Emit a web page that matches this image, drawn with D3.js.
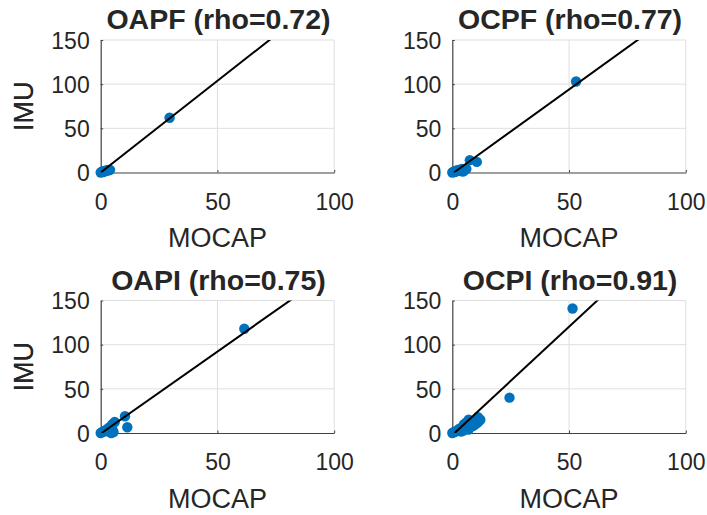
<!DOCTYPE html>
<html>
<head>
<meta charset="utf-8">
<script src="https://cdn.jsdelivr.net/npm/d3@7"></script>
<style>
  body { margin: 0; background: #fff; }
  svg text { font-family: "Liberation Sans", Arial, Helvetica, sans-serif; fill: #262626; }
</style>
</head>
<body>
<div id="chart"></div>
<script>
// panel titles
const titles = ['OAPF (rho=0.72)', 'OCPF (rho=0.77)', 'OAPI (rho=0.75)', 'OCPI (rho=0.91)'];

// MOCAP (x) values per panel
const mocapOAPF = [0, 0.5, 1, 1, 1.5, 2, 2.5, 3, 3.5, 4, 29.5];
const mocapOCPF = [0, 0.5, 1, 1.5, 2, 2.5, 3, 4, 4.5, 5, 6, 7.5, 10.5, 53];
const mocapOAPI = [0, 0.5, 1, 1.5, 2, 3, 3, 4, 4.5, 5, 5, 5.5, 6, 10.4, 11.4, 61.5];
const mocapOCPI = [0, 0.5, 1, 2, 3, 3.5, 4, 4, 5, 5, 6, 6, 7, 7, 8, 9, 10, 10, 11, 11, 12, 24.5, 51.5];

// IMU (y) values per panel
const imuOAPF = [0, 1, 0.5, 1.5, 1, 2, 2, 3, 2.5, 3, 62];
const imuOCPF = [0, 1, 0.5, 2, 1.5, 3, 2, 4, 1, 2, 4, 14, 12, 103];
const imuOAPI = [0, 1, 1.5, 2, 3, 5, 2, 7, 0, 4, 10, 1, 12.5, 19, 6.5, 118];
const imuOCPI = [0, 1, 1, 3, 5, 2, 6, 2, 10, 3, 12, 5, 15, 4, 8, 8, 10, 13, 18, 12, 15, 40, 141];

// least-squares line per panel: slope, intercept, x start
const fitSlope = [2.075, 1.906, 1.859, 2.455];
const fitIntercept = [0, -1.3, -0.74, -2.45];
const fitStart = [0, 0.7, 0.4, 1.0];

const xTicks = [0, 50, 100];
const yTicks = [0, 50, 100, 150];

const panels = [
  { x: mocapOAPF, y: imuOAPF },
  { x: mocapOCPF, y: imuOCPF },
  { x: mocapOAPI, y: imuOAPI },
  { x: mocapOCPI, y: imuOCPI }
];

const W = 707, H = 515;
const svg = d3.select('#chart').append('svg')
  .attr('width', W)
  .attr('height', H);

// plot box positions (left, top) for the 2x2 grid
const boxW = 233.5, boxH = 132.5;
const lefts = [100.7, 452.3];
const tops = [40, 300.5];

panels.forEach((p, i) => {
  const left = lefts[i % 2];
  const top = tops[Math.floor(i / 2)];

  const x = d3.scaleLinear().domain([0, 100]).range([0, boxW]);
  const y = d3.scaleLinear().domain([0, 150]).range([boxH, 0]);

  const g = svg.append('g').attr('transform', `translate(${left},${top})`);

  // grid
  g.append('g')
    .selectAll('line.gx')
    .data(xTicks.filter(d => d > 0))
    .join('line')
    .attr('x1', d => x(d)).attr('x2', d => x(d))
    .attr('y1', 0).attr('y2', boxH)
    .attr('stroke', '#dfdfdf').attr('stroke-width', 1);
  g.append('g')
    .selectAll('line.gy')
    .data(yTicks.filter(d => d > 0))
    .join('line')
    .attr('x1', 0).attr('x2', boxW)
    .attr('y1', d => y(d)).attr('y2', d => y(d))
    .attr('stroke', '#dfdfdf').attr('stroke-width', 1);

  // axes (ticks point inward, like matlab)
  const xAxis = g.append('g')
    .attr('transform', `translate(0,${boxH})`)
    .call(d3.axisBottom(x).tickValues(xTicks).tickSize(-2.5).tickPadding(21).tickSizeOuter(0));
  const yAxis = g.append('g')
    .call(d3.axisLeft(y).tickValues(yTicks).tickSize(-2.5).tickPadding(11).tickSizeOuter(0));

  [xAxis, yAxis].forEach(a => {
    a.select('.domain').attr('stroke', '#404040').attr('stroke-width', 1.2);
    a.selectAll('.tick line').attr('stroke', '#404040');
    a.selectAll('.tick text').attr('font-size', 23).attr('fill', '#262626')
      .style('font-family', '"Liberation Sans", Arial, sans-serif');
  });
  xAxis.selectAll('.tick text').attr('dy', '0.71em');
  yAxis.selectAll('.tick text').attr('dy', '0.36em');

  // clip for the fit line
  const clipId = 'clip' + i;
  g.append('clipPath').attr('id', clipId)
    .append('rect').attr('width', boxW).attr('height', boxH);

  // points
  const pts = p.x.map((v, j) => ({ mx: v, iy: p.y[j] }));
  g.append('g')
    .selectAll('circle')
    .data(pts)
    .join('circle')
    .attr('cx', d => x(d.mx))
    .attr('cy', d => y(d.iy))
    .attr('r', 5.2)
    .attr('fill', '#0072BD');

  // fit line
  const x0 = fitStart[i], x1 = 100;
  g.append('line')
    .attr('clip-path', `url(#${clipId})`)
    .attr('x1', x(x0)).attr('y1', y(fitSlope[i] * x0 + fitIntercept[i]))
    .attr('x2', x(x1)).attr('y2', y(fitSlope[i] * x1 + fitIntercept[i]))
    .attr('stroke', '#000').attr('stroke-width', 2);

  // title
  g.append('text')
    .attr('x', boxW / 2 + 1)
    .attr('y', -11)
    .attr('text-anchor', 'middle')
    .attr('font-size', 28.5)
    .attr('font-weight', 'bold')
    .attr('fill', '#000')
    .text(titles[i]);

  // labels
  g.append('text')
    .attr('x', boxW / 2)
    .attr('y', boxH + 74.5)
    .attr('text-anchor', 'middle')
    .attr('font-size', 27)
    .text('MOCAP');

  g.append('text')
    .attr('transform', `translate(${-left + 33},${boxH / 2}) rotate(-90)`)
    .attr('text-anchor', 'middle')
    .attr('font-size', 27)
    .text('IMU');
});
</script>
</body>
</html>
